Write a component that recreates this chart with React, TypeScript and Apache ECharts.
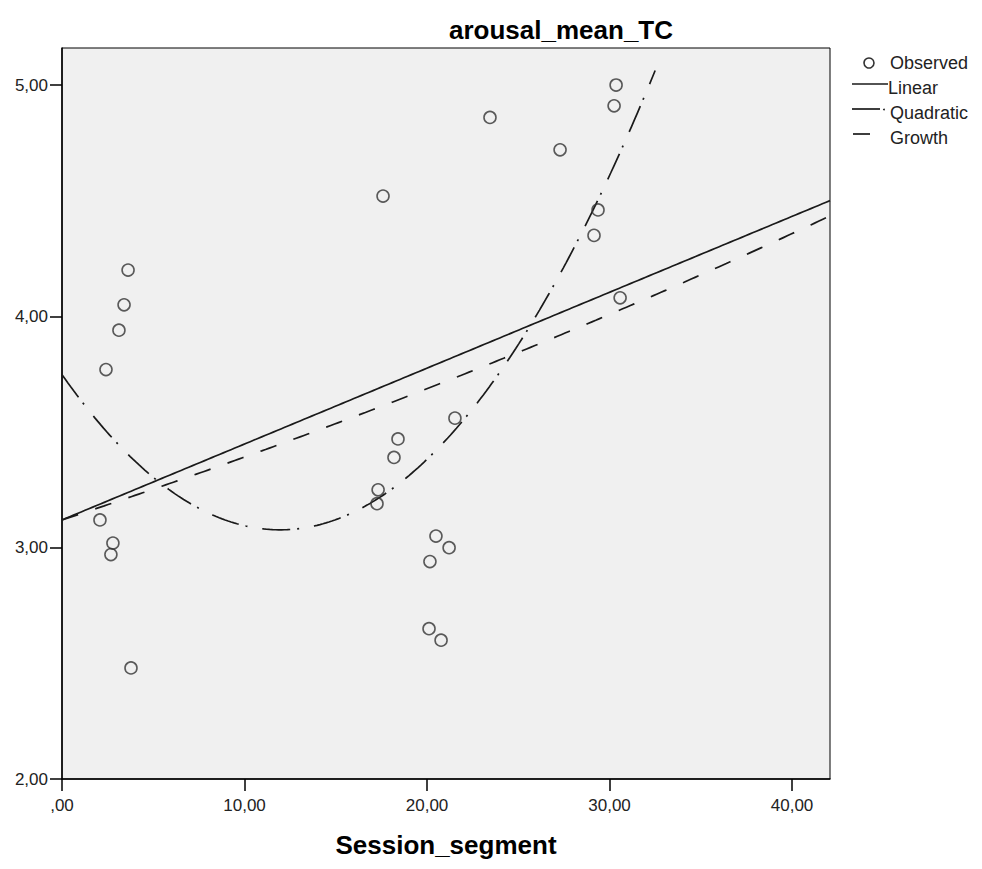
import React, { useEffect, useRef } from "react";
import * as echarts from "echarts";

const obsX = [2.08, 2.79, 2.68, 3.78, 2.41, 3.12, 3.40, 3.62, 17.59, 17.32, 17.26, 18.19, 18.41, 21.53, 20.49, 21.21, 20.16, 20.11, 20.77, 23.45, 27.29, 30.36, 30.25, 29.37, 29.15, 30.58];
const obsY = [3.12, 3.02, 2.97, 2.48, 3.77, 3.94, 4.05, 4.20, 4.52, 3.25, 3.19, 3.39, 3.47, 3.56, 3.05, 3.00, 2.94, 2.65, 2.60, 4.86, 4.72, 5.00, 4.91, 4.46, 4.35, 4.08];

// fitted model coefficients (as drawn)
const linearCoef = [3.12, 0.0328];
const quadCoef = [3.748, -0.1123, 0.0047];
const growthCoef = [1.1378, 0.008353];

const xTicks = [0, 10, 20, 30, 40];
const yTicks = [2, 3, 4, 5];
const xMax = 42.08;
const quadEnd = 32.5;

const legendItems = ["Observed", "Linear", "Quadratic", "Growth"];

const fmt = (v: number) => {
  const s = v.toFixed(2).replace(".", ",");
  return s.startsWith("0,") ? s.slice(1) : s;
};

export default function App() {
  const ref = useRef<HTMLDivElement>(null);
  useEffect(() => {
    if (!ref.current) return;
    const chart = echarts.init(ref.current, null, { renderer: "svg" });
    const steps = 200;
    const lin: number[][] = [];
    const quad: number[][] = [];
    const gro: number[][] = [];
    for (let i = 0; i <= steps; i++) {
      const x = (xMax * i) / steps;
      lin.push([x, linearCoef[0] + linearCoef[1] * x]);
      gro.push([x, Math.exp(growthCoef[0] + growthCoef[1] * x)]);
      const xq = (quadEnd * i) / steps;
      quad.push([xq, quadCoef[0] + quadCoef[1] * xq + quadCoef[2] * xq * xq]);
    }
    const font = "Liberation Sans, Arial, sans-serif";
    const lineC = "#1a1a1a";
    const legY = [63, 88, 113, 138];
    chart.setOption({
      animation: false,
      backgroundColor: "#ffffff",
      title: {
        text: "arousal_mean_TC",
        left: 556,
        top: 12,
        textAlign: "center",
        textStyle: { fontFamily: font, fontSize: 26, fontWeight: "bold", color: "#000" },
      },
      grid: {
        left: 62,
        top: 48,
        width: 768,
        height: 731,
        show: true,
        backgroundColor: "#f0f0f0",
        borderColor: "#000",
        borderWidth: 1,
      },
      xAxis: {
        type: "value",
        min: 0,
        max: xMax,
        name: "Session_segment",
        nameLocation: "middle",
        nameGap: 53,
        nameTextStyle: { fontFamily: font, fontSize: 26, fontWeight: "bold", color: "#000" },
        axisLine: { lineStyle: { color: "#000", width: 1.5 } },
        axisTick: { show: true, length: 12, customValues: xTicks, lineStyle: { color: "#000", width: 1.5 } },
        axisLabel: {
          customValues: xTicks,
          formatter: (v: number) => fmt(v),
          fontFamily: font,
          fontSize: 17,
          color: "#222",
          margin: 18,
        },
        splitLine: { show: false },
      },
      yAxis: {
        type: "value",
        min: 2,
        max: 5.16,
        axisLine: { show: true, lineStyle: { color: "#000", width: 1.5 } },
        axisTick: { show: true, length: 12, customValues: yTicks, lineStyle: { color: "#000", width: 1.5 } },
        axisLabel: {
          customValues: yTicks,
          formatter: (v: number) => fmt(v),
          fontFamily: font,
          fontSize: 17,
          color: "#222",
          margin: 14,
        },
        splitLine: { show: false },
      },
      series: [
        {
          type: "line",
          name: "Linear",
          data: lin,
          showSymbol: false,
          lineStyle: { color: lineC, width: 1.7, type: "solid" },
          z: 3,
        },
        {
          type: "line",
          name: "Quadratic",
          data: quad,
          showSymbol: false,
          lineStyle: { color: lineC, width: 1.7, type: [28, 7, 2, 15] },
          z: 3,
        },
        {
          type: "line",
          name: "Growth",
          data: gro,
          showSymbol: false,
          lineStyle: { color: lineC, width: 1.7, type: [17, 18] },
          z: 3,
        },
        {
          type: "scatter",
          name: "Observed",
          data: obsX.map((x, i) => [x, obsY[i]]),
          symbol: "circle",
          symbolSize: 12,
          itemStyle: { color: "rgba(0,0,0,0)", borderColor: "#333", borderWidth: 1.6 },
          z: 4,
        },
      ],
      graphic: [
        { type: "circle", shape: { cx: 869, cy: 63, r: 5 }, style: { fill: "none", stroke: "#333", lineWidth: 1.6 } },
        { type: "line", shape: { x1: 852, y1: 84, x2: 888, y2: 84 }, style: { stroke: lineC, lineWidth: 1.7 } },
        { type: "line", shape: { x1: 852, y1: 109, x2: 880, y2: 109 }, style: { stroke: lineC, lineWidth: 1.7 } },
        { type: "circle", shape: { cx: 884, cy: 109.5, r: 0.9 }, style: { fill: lineC } },
        { type: "line", shape: { x1: 853, y1: 134, x2: 870, y2: 134 }, style: { stroke: lineC, lineWidth: 1.7 } },
        ...legendItems.map((t, i) => ({
          type: "text",
          x: i === 1 ? 888 : 890,
          y: legY[i],
          style: { text: t, font: `18px ${font}`, fill: "#222", verticalAlign: "middle", align: "left" },
        })),
      ],
    });
    return () => chart.dispose();
  }, []);
  return <div ref={ref} style={{ position: "absolute", left: 0, top: 0, width: 982, height: 869 }} />;
}
